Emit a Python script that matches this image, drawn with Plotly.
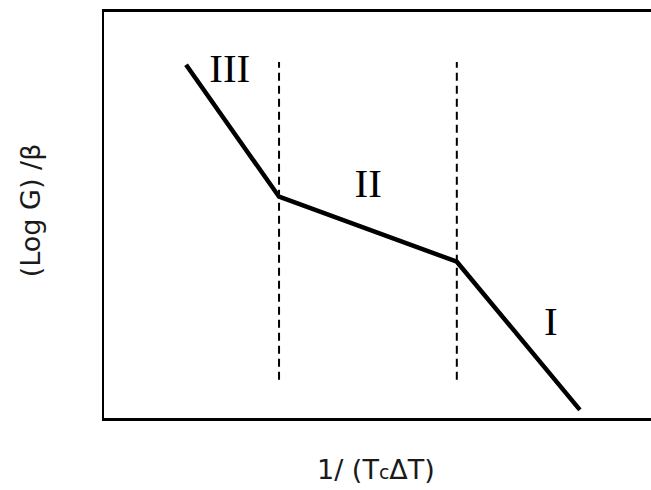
import plotly.graph_objects as go

# Growth-regime curve: break points of the piecewise line
curve_x = [1.5, 3.2, 6.45, 8.7]
curve_y = [8.7, 5.45, 3.85, 0.2]

# Regime boundaries (vertical dashed lines)
boundary_x = [3.2, 6.45]
boundary_y = [0.94, 8.77]

# Regime labels
regime_labels = ["III", "II", "I"]
label_x = [2.3, 4.83, 8.17]
label_y = [8.52, 5.69, 2.29]

fig = go.Figure()

fig.add_trace(go.Scatter(
    x=curve_x, y=curve_y, mode="lines",
    line=dict(color="black", width=4.5),
    showlegend=False, hoverinfo="skip",
))

for bx in boundary_x:
    fig.add_trace(go.Scatter(
        x=[bx, bx], y=boundary_y, mode="lines",
        line=dict(color="black", width=2, dash="8px,5px"),
        showlegend=False, hoverinfo="skip",
    ))

fig.add_trace(go.Scatter(
    x=label_x, y=label_y, mode="text", text=regime_labels,
    textfont=dict(family="Liberation Serif", size=41, color="black"),
    showlegend=False, hoverinfo="skip",
))

fig.update_xaxes(
    range=[0, 10], showgrid=False, zeroline=False, showticklabels=False,
    ticks="", showline=True, linecolor="black", linewidth=3, mirror=True,
)
fig.update_yaxes(
    range=[0, 10], showgrid=False, zeroline=False, showticklabels=False,
    ticks="", showline=True, linecolor="black", linewidth=2, mirror=False,
)

fig.add_annotation(
    text="(Log G) /β", xref="paper", yref="paper",
    x=-0.135, y=0.512, xanchor="center", yanchor="middle",
    textangle=-90, showarrow=False,
    font=dict(family="DejaVu Sans", size=27, color="#1a1a1a"),
)
fig.add_annotation(
    text="1/ (T<span style='font-size:19px'>c</span>ΔT)",
    xref="paper", yref="paper",
    x=0.497, y=-0.126, xanchor="center", yanchor="middle",
    showarrow=False,
    font=dict(family="DejaVu Sans", size=27, color="#1a1a1a"),
)

fig.update_layout(
    width=651, height=490,
    margin=dict(l=104, r=0, t=12, b=72),
    plot_bgcolor="white", paper_bgcolor="white",
)

fig.write_html("out.html")
